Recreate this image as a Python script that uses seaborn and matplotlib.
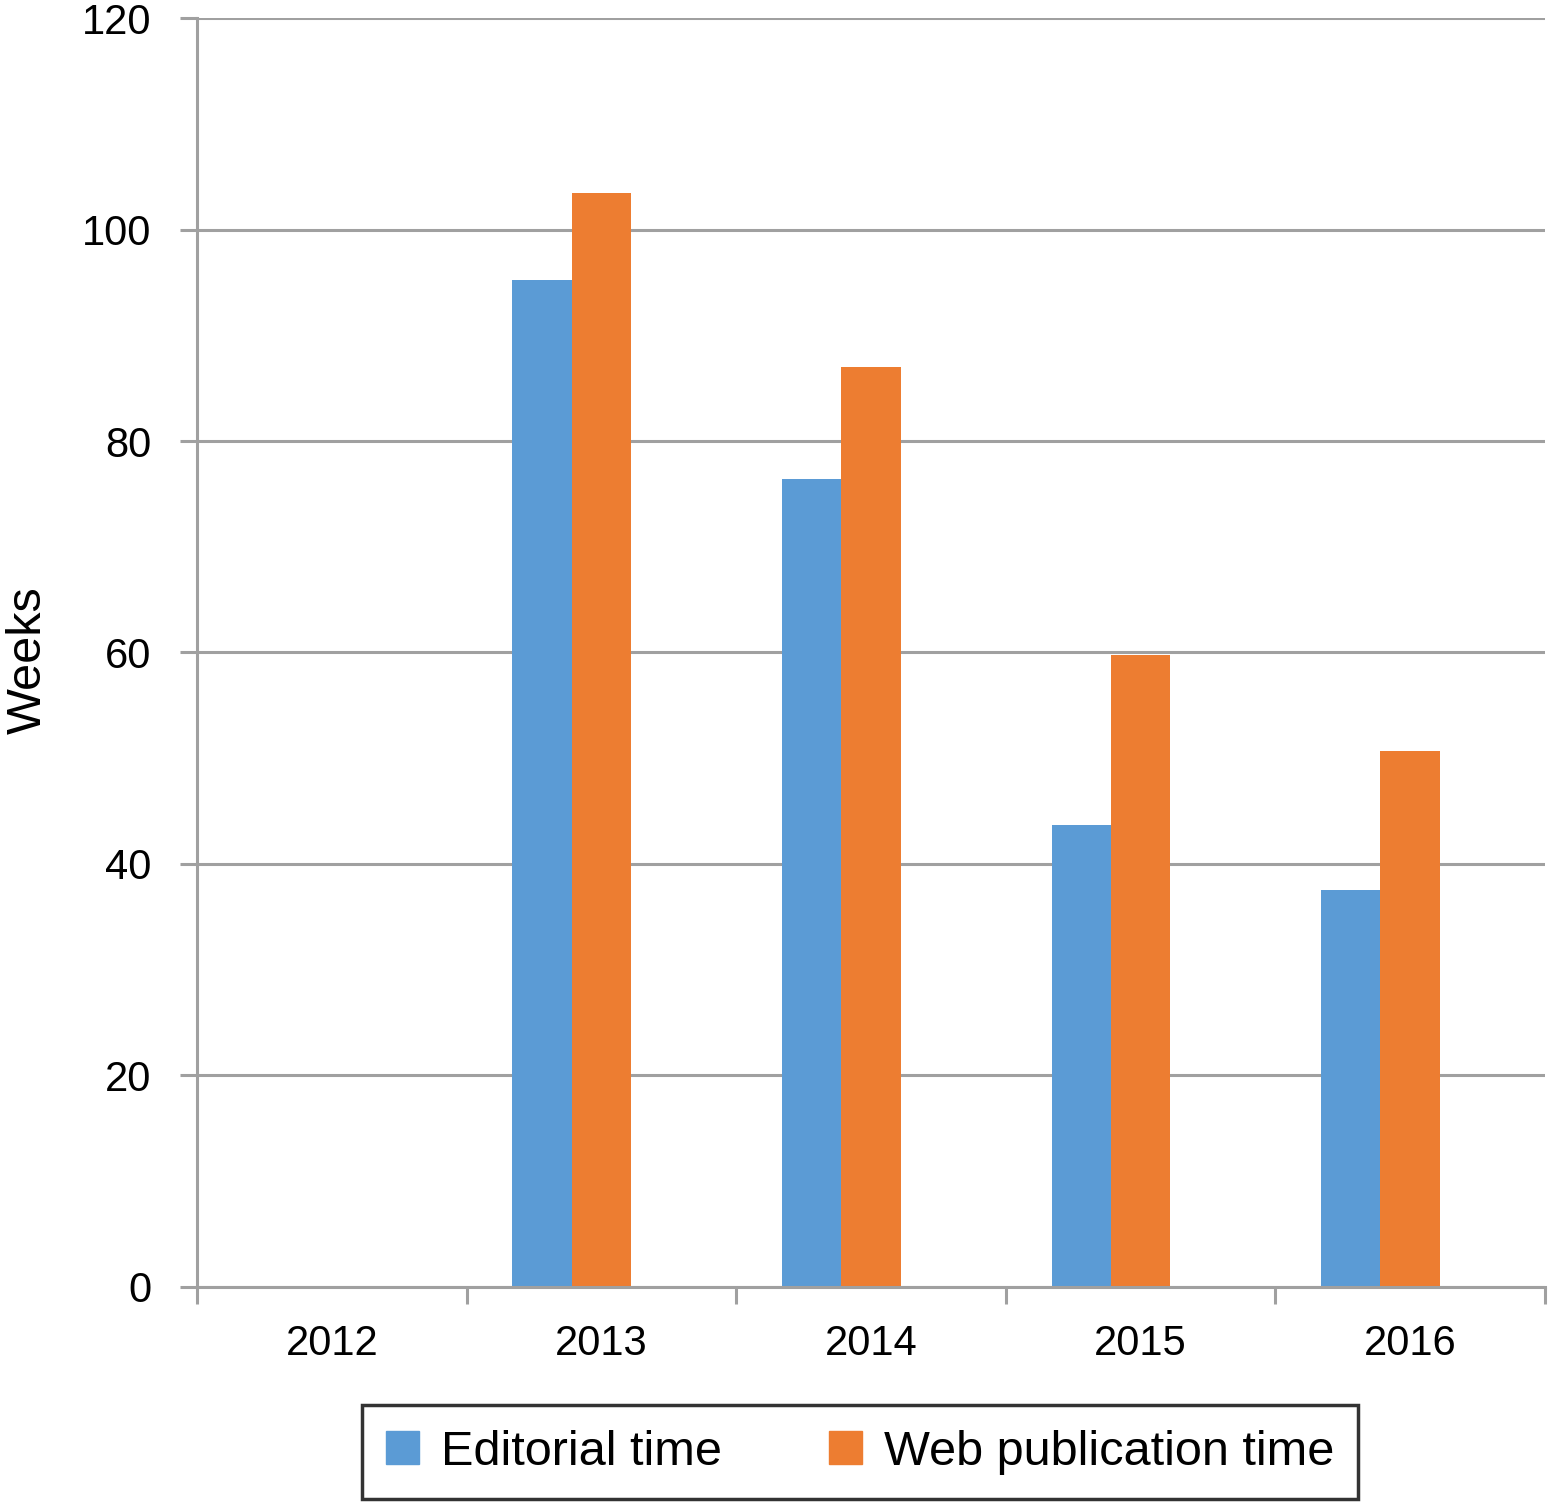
import pandas as pd
import numpy as np
import matplotlib
matplotlib.use('Agg')
import matplotlib.pyplot as plt
import seaborn as sns
from matplotlib.ticker import FixedLocator

years = ['2012', '2013', '2014', '2015', '2016']
editorial_time = [0, 95.2, 76.4, 43.7, 37.5]
web_publication_time = [0, 103.5, 87.0, 59.8, 50.7]
series_names = ['Editorial time', 'Web publication time']
# the source chart keeps room for a third, empty series in each group
empty_series = '_empty'
y_ticks = [0, 20, 40, 60, 80, 100, 120]
colors = ['#5B9BD5', '#ED7D31', '#A5A5A5']

df = pd.DataFrame({
    'Year': years * 2,
    'Weeks': editorial_time + web_publication_time,
    'Series': [series_names[0]] * len(years) + [series_names[1]] * len(years),
})

sns.set_style('white')
plt.rcParams['font.family'] = ['Liberation Sans', 'DejaVu Sans']
plt.rcParams['text.color'] = 'black'

grid_grey = '#A0A0A0'

fig = plt.figure(figsize=(15.48, 15.05), dpi=100)
ax = fig.add_axes([0.1273, 0.1449, 0.8707, 0.8431])

sns.barplot(data=df, x='Year', y='Weeks', hue='Series', order=years,
            hue_order=series_names + [empty_series], palette=colors,
            width=0.66, gap=0, linewidth=0, saturation=1, ax=ax)

ax.set_xlim(-0.5, len(years) - 0.5)
ax.set_ylim(0, 120)
ax.set_yticks(y_ticks)
ax.grid(axis='y', color=grid_grey, linewidth=2.2)
ax.set_axisbelow(True)

for side in ['top', 'right']:
    ax.spines[side].set_visible(False)
for side in ['left', 'bottom']:
    ax.spines[side].set_color(grid_grey)
    ax.spines[side].set_linewidth(2.2)

ax.tick_params(axis='y', length=12, width=2.2, color=grid_grey,
               labelsize=30, pad=21, left=True, labelcolor='black')
ax.tick_params(axis='x', which='major', length=0, labelsize=30, pad=27,
               labelcolor='black')
ax.xaxis.set_minor_locator(FixedLocator(np.arange(-0.5, len(years), 1.0)))
ax.tick_params(axis='x', which='minor', length=12, width=2.2,
               color=grid_grey, bottom=True)

ax.set_xlabel('')
ax.set_ylabel('Weeks', fontsize=35, color='black')
ax.yaxis.set_label_coords(-0.1085, 0.494)

if ax.legend_ is not None:
    ax.legend_.remove()
handles = [plt.Rectangle((0, 0), 1, 1, color=c) for c in colors[:2]]
leg = fig.legend(handles, series_names, loc='center',
                 bbox_to_anchor=(0.5556, 0.0352), ncol=2, fontsize=35,
                 frameon=True, fancybox=False, edgecolor='black',
                 handlelength=0.68, handleheight=0.66, handletextpad=0.45,
                 columnspacing=2.2, borderpad=0.5, borderaxespad=0)
leg.get_frame().set_linewidth(2.5)

fig.savefig('out.png', dpi=100)
